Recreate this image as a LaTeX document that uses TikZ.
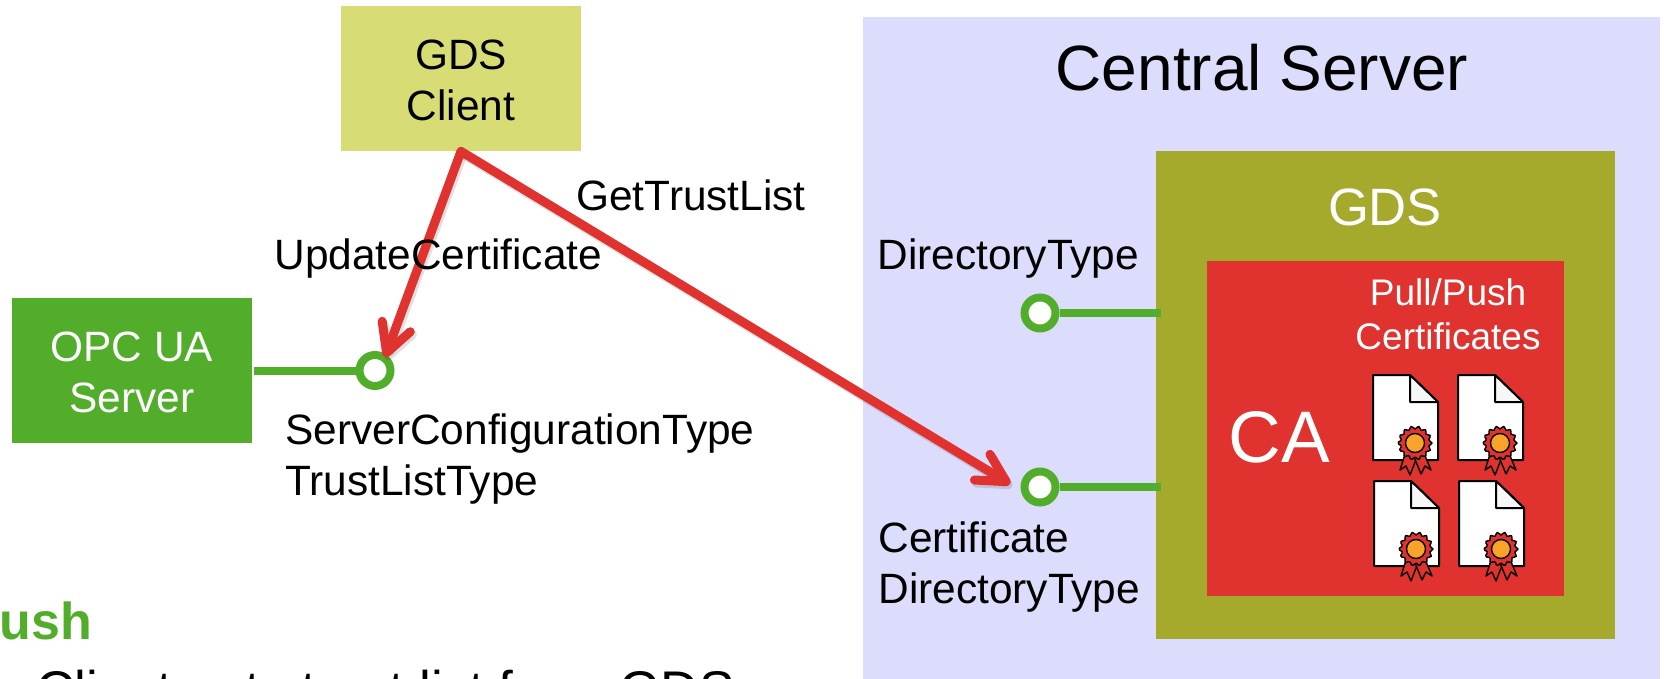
\documentclass[tikz,border=0pt]{standalone}
\usepackage{fontspec}
\setmainfont{Liberation Sans}
\usetikzlibrary{arrows.meta}
\definecolor{serverlila}{HTML}{DCDCFD}
\definecolor{gdsolive}{HTML}{A6AA2C}
\definecolor{cared}{HTML}{E0322E}
\definecolor{uagreen}{HTML}{52AE2A}
\definecolor{clientlime}{HTML}{D8DC74}
\definecolor{sealorange}{HTML}{F9A428}
\newcommand{\labelfont}{\fontsize{21.2}{25.5}\selectfont}
\tikzset{
    box/.style={inner sep=0pt, align=center, text=#1},
    box/.default=black,
    label/.style={inner sep=0pt, align=left, font=\labelfont},
    port/.style={circle, draw=uagreen, fill=white, line width=4pt, minimum size=15.5pt, inner sep=0pt},
    stub/.style={draw=uagreen, line width=4pt},
    call/.style={line width=4.5pt, line cap=round,
        -{Straight Barb[length=14pt, width=15pt, round]}},
    certdoc/.pic={
        \draw[fill=white, line width=1pt, line join=round] (0,0) -- (37,0) -- (65,27) -- (65,85) -- (0,85) -- cycle;
        \draw[fill=black!3, line width=1pt, line join=round] (37,0) -- (37,27) -- (65,27) -- cycle;
        % Cintas y sello
        \draw[fill=cared, line width=.7pt, line join=round] (33,76) -- (27,95) -- (33,91) -- (37,100) -- (44,82) -- cycle;
        \draw[fill=cared, line width=.7pt, line join=round] (50,76) -- (58,95) -- (52,91) -- (48,99) -- (41,82) -- cycle;
        \draw[fill=cared, line width=.7pt, line join=round] plot[samples=57, domain=0:352]
            ({42+(15.5+1.5*cos(14*\x))*cos(\x)}, {68+(15.5+1.5*cos(14*\x))*sin(\x)}) -- cycle;
        \draw[fill=sealorange, line width=.7pt] (42,68) circle (9.5);
    },
}
\begin{document}
\begin{tikzpicture}[x=0.5pt, y=-0.5pt]
    \useasboundingbox (0,0) rectangle (1664,679);
    % Cajas grandes
    \node[fill=serverlila, minimum width=398.5pt, minimum height=331pt, inner sep=0pt] (central) at (1261.5,348) {};
    \node[fill=gdsolive, minimum width=229.5pt, minimum height=244pt, inner sep=0pt] (gds) at (1385.5,395) {};
    \node[fill=cared, minimum width=178.5pt, minimum height=167.5pt, inner sep=0pt] (ca) at (1385.5,428.5) {};
    % Cajas de la izquierda
    \node[fill=clientlime, minimum width=120pt, minimum height=72.5pt, inner sep=0pt] (gdsclient) at (461,78.5) {};
    \node[fill=uagreen, minimum width=120pt, minimum height=72.5pt, inner sep=0pt] (uaserver) at (132,370.5) {};
    % Textos de las cajas
    \node[box, font=\labelfont] (clienttext) at (461,80.5) {GDS\\Client};
    \node[box=white, font=\labelfont] (servertext) at (132,372.5) {OPC UA\\Server};
    \node[box, font=\fontsize{32}{38}\selectfont] (centraltitle) at (1262,68) {Central Server};
    \node[box=white, font=\fontsize{26.3}{31}\selectfont] (gdstitle) at (1385,207) {GDS};
    \node[box=white, font=\fontsize{18.5}{22}\selectfont] (pullpush) at (1448,314) {Pull/Push\\Certificates};
    \node[box=white, font=\fontsize{36.5}{44}\selectfont] (catitle) at (1279,437) {CA};
    % Certificados
    \foreach \x/\y in {1373/375, 1458/375, 1374/481, 1459/481}
        \pic at (\x,\y) {certdoc};
    % Puertos
    \node[port] (serverport) at (375,370.5) {};
    \node[port] (directoryport) at (1040,313) {};
    \node[port] (certport) at (1040,487) {};
    \coordinate (serverstart) at (254,370.5);
    \coordinate (directoryend) at (1161,313);
    \coordinate (certend) at (1161,487);
    \draw[stub] (serverstart) -- (serverport.west);
    \draw[stub] (directoryport.east) -- (directoryend);
    \draw[stub] (certport.east) -- (certend);
    % Llamadas en rojo
    \coordinate (updatetip) at (385,357);
    \coordinate (trusttip) at (1010,484);
    \begin{scope}[transform canvas={xshift=1pt, yshift=-1.5pt}]
        \draw[call, draw=black, opacity=.12] (gdsclient.south) -- (updatetip);
        \draw[call, draw=black, opacity=.12] (gdsclient.south) -- (trusttip);
    \end{scope}
    \draw[call, draw=cared] (gdsclient.south) -- (updatetip);
    \draw[call, draw=cared] (gdsclient.south) -- (trusttip);
    % Etiquetas
    \node[label, anchor=base west] (updatelabel) at (274,270) {UpdateCertificate};
    \node[label, anchor=base west] (trustlabel) at (576,211) {GetTrustList};
    \node[label, anchor=west] (configlabel) at (285,459) {ServerConfigurationType\\TrustListType};
    \node[label, anchor=base west] (directorylabel) at (877,269.5) {DirectoryType};
    \node[label, anchor=west] (certlabel) at (878,567) {Certificate\\DirectoryType};
    % Texto de abajo
    \node[inner sep=0pt, anchor=base west, text=uagreen, font=\fontsize{26}{30}\selectfont\bfseries] (pushlabel) at (-1,639) {ush};
    \node[inner sep=0pt, anchor=base west, font=\fontsize{26.5}{31}\selectfont] (bottomlabel) at (36,708) {Client gets trust list from GDS};
\end{tikzpicture}
\end{document}
